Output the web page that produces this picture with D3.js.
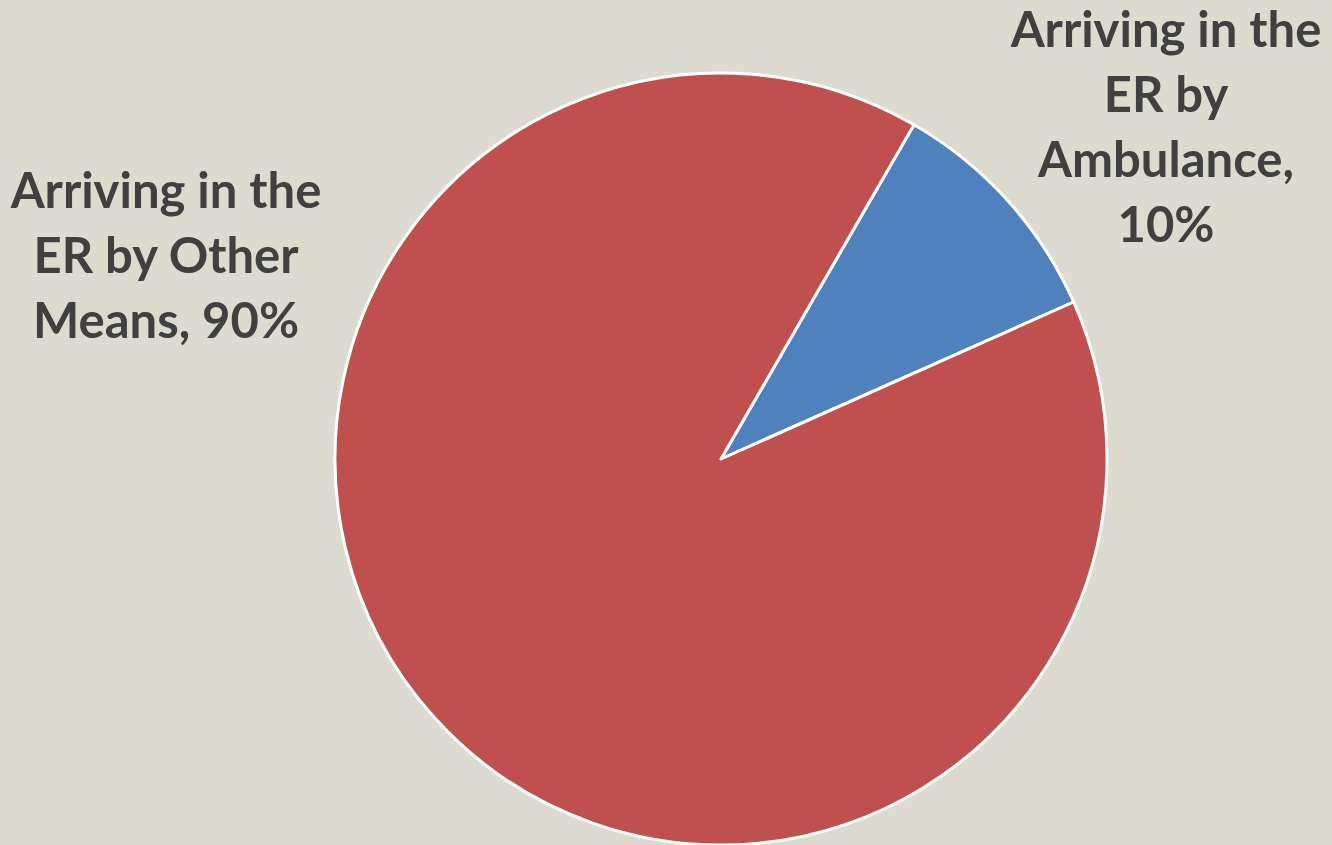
<!DOCTYPE html>
<html><head><meta charset="utf-8">
<script src="https://cdn.jsdelivr.net/npm/d3@7"></script>
<style>html,body{margin:0;padding:0;background:#DDDBCF;}svg{display:block;}</style>
</head><body>
<svg id="c" width="1332" height="845"></svg>
<script>
const categories = ["Arriving in the ER by Ambulance", "Arriving in the ER by Other Means"];
const values = [10, 90];
const labelLines = [
  ["Arriving in the", "ER by", "Ambulance,", "10%"],
  ["Arriving in the", "ER by Other", "Means, 90%"]
];
const colors = ["#4F81BD", "#C0504D"];

const svg = d3.select("#c");
const W = 1332, H = 845;
svg.append("rect").attr("width", W).attr("height", H).attr("fill", "#DDDBCF");
const cx = 721, cy = 459, R = 386;
const deg = Math.PI / 180;
const pie = d3.pie().sort(null).startAngle(30 * deg).endAngle(390 * deg);
const arc = d3.arc().innerRadius(0).outerRadius(R);
const arcs = pie(values);
const g = svg.append("g").attr("transform", `translate(${cx},${cy})`);
g.selectAll("path").data(arcs).join("path")
  .attr("d", arc)
  .attr("fill", (d, i) => colors[i])
  .attr("stroke", "#FFFFFF").attr("stroke-width", 3).attr("stroke-linejoin", "round");

const labelPos = [{x: 1166, y: 47}, {x: 166, y: 208}];
const lh = 65;
labelLines.forEach((lines, i) => {
  const t = svg.append("text")
    .attr("text-anchor", "middle")
    .attr("font-family", "Lato, 'Open Sans', sans-serif")
    .attr("font-weight", "bold")
    .attr("font-size", 49)
    .attr("fill", "#404040");
  lines.forEach((l, j) => {
    t.append("tspan").attr("x", labelPos[i].x).attr("y", labelPos[i].y + j * lh).text(l);
  });
});
</script>
</body></html>
